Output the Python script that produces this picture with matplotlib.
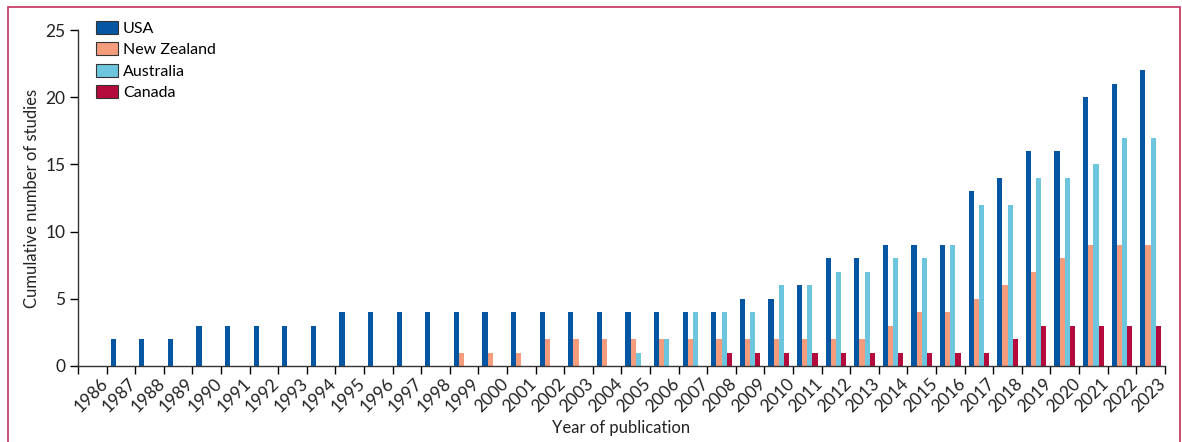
import matplotlib
matplotlib.use('Agg')
import matplotlib.pyplot as plt
from matplotlib.patches import Rectangle
import numpy as np

# Data
years = list(range(1986, 2024))
usa = [0, 2, 2, 2, 3, 3, 3, 3, 3, 4, 4, 4, 4, 4, 4, 4, 4, 4, 4, 4, 4,
       4, 4, 5, 5, 6, 8, 8, 9, 9, 9, 13, 14, 16, 16, 20, 21, 22]
new_zealand = [0, 0, 0, 0, 0, 0, 0, 0, 0, 0, 0, 0, 0, 1, 1, 1, 2, 2, 2, 2, 2,
               2, 2, 2, 2, 2, 2, 2, 3, 4, 4, 5, 6, 7, 8, 9, 9, 9]
australia = [0, 0, 0, 0, 0, 0, 0, 0, 0, 0, 0, 0, 0, 0, 0, 0, 0, 0, 0, 1, 2,
             4, 4, 4, 6, 6, 7, 7, 8, 8, 9, 12, 12, 14, 14, 15, 17, 17]
canada = [0, 0, 0, 0, 0, 0, 0, 0, 0, 0, 0, 0, 0, 0, 0, 0, 0, 0, 0, 0, 0,
          0, 1, 1, 1, 1, 1, 1, 1, 1, 1, 1, 2, 3, 3, 3, 3, 3]

series = [('USA', usa, '#0556a2'),
          ('New Zealand', new_zealand, '#f59c7c'),
          ('Australia', australia, '#6ec6de'),
          ('Canada', canada, '#b50a3c')]

plt.rcParams['font.family'] = ['Lato', 'DejaVu Sans']

fig = plt.figure(figsize=(11.82, 4.42), dpi=100)
ax = fig.add_axes([0.066, 0.172, 0.9195, 0.76])

x = np.arange(len(years))
width = 0.18
offsets = [-0.27, -0.09, 0.09, 0.27]
for (name, vals, color), off in zip(series, offsets):
    ax.bar(x + off, vals, width=width, color=color, label=name,
           edgecolor='none')

ax.set_xlim(-0.5, len(years) - 0.5)
ax.set_ylim(0, 25)
ax.set_yticks([0, 5, 10, 15, 20, 25])

# labels at group centres, tick marks at group boundaries
ax.set_xticks(x + 0.25)
ax.set_xticklabels([str(y) for y in years], rotation=45, ha='right',
                   rotation_mode='anchor')
ax.tick_params(axis='x', which='major', length=0, pad=7, labelsize=12.5,
               labelcolor='#222222')
ax.set_xticks(np.arange(-0.5, len(years)), minor=True)
ax.tick_params(axis='x', which='minor', length=6, width=1, direction='out')
ax.tick_params(axis='y', length=6, width=1, labelsize=12.5, pad=3,
               labelcolor='#222222')

for s in ['top', 'right']:
    ax.spines[s].set_visible(False)
for s in ['left', 'bottom']:
    ax.spines[s].set_color('#333333')
    ax.spines[s].set_linewidth(1)

ax.set_xlabel('Year of publication', fontsize=12, labelpad=3, color='#222222')
ax.set_ylabel('Cumulative number of studies', fontsize=12, labelpad=4,
              color='#222222')

leg = ax.legend(loc='upper left', bbox_to_anchor=(0.0755, 0.968),
                bbox_transform=fig.transFigure, frameon=False, fontsize=11.5,
                handlelength=1.4, handleheight=0.9, labelspacing=0.4,
                handletextpad=0.3, borderaxespad=0)
for h in leg.legend_handles:
    h.set_edgecolor('#333333')
    h.set_linewidth(0.8)

# frame round the figure
fig.patches.append(Rectangle((0.007, -0.01), 0.991, 0.995,
                             transform=fig.transFigure, fill=False,
                             edgecolor='#c2315a', linewidth=1.2))

fig.savefig('out.png', dpi=100)
